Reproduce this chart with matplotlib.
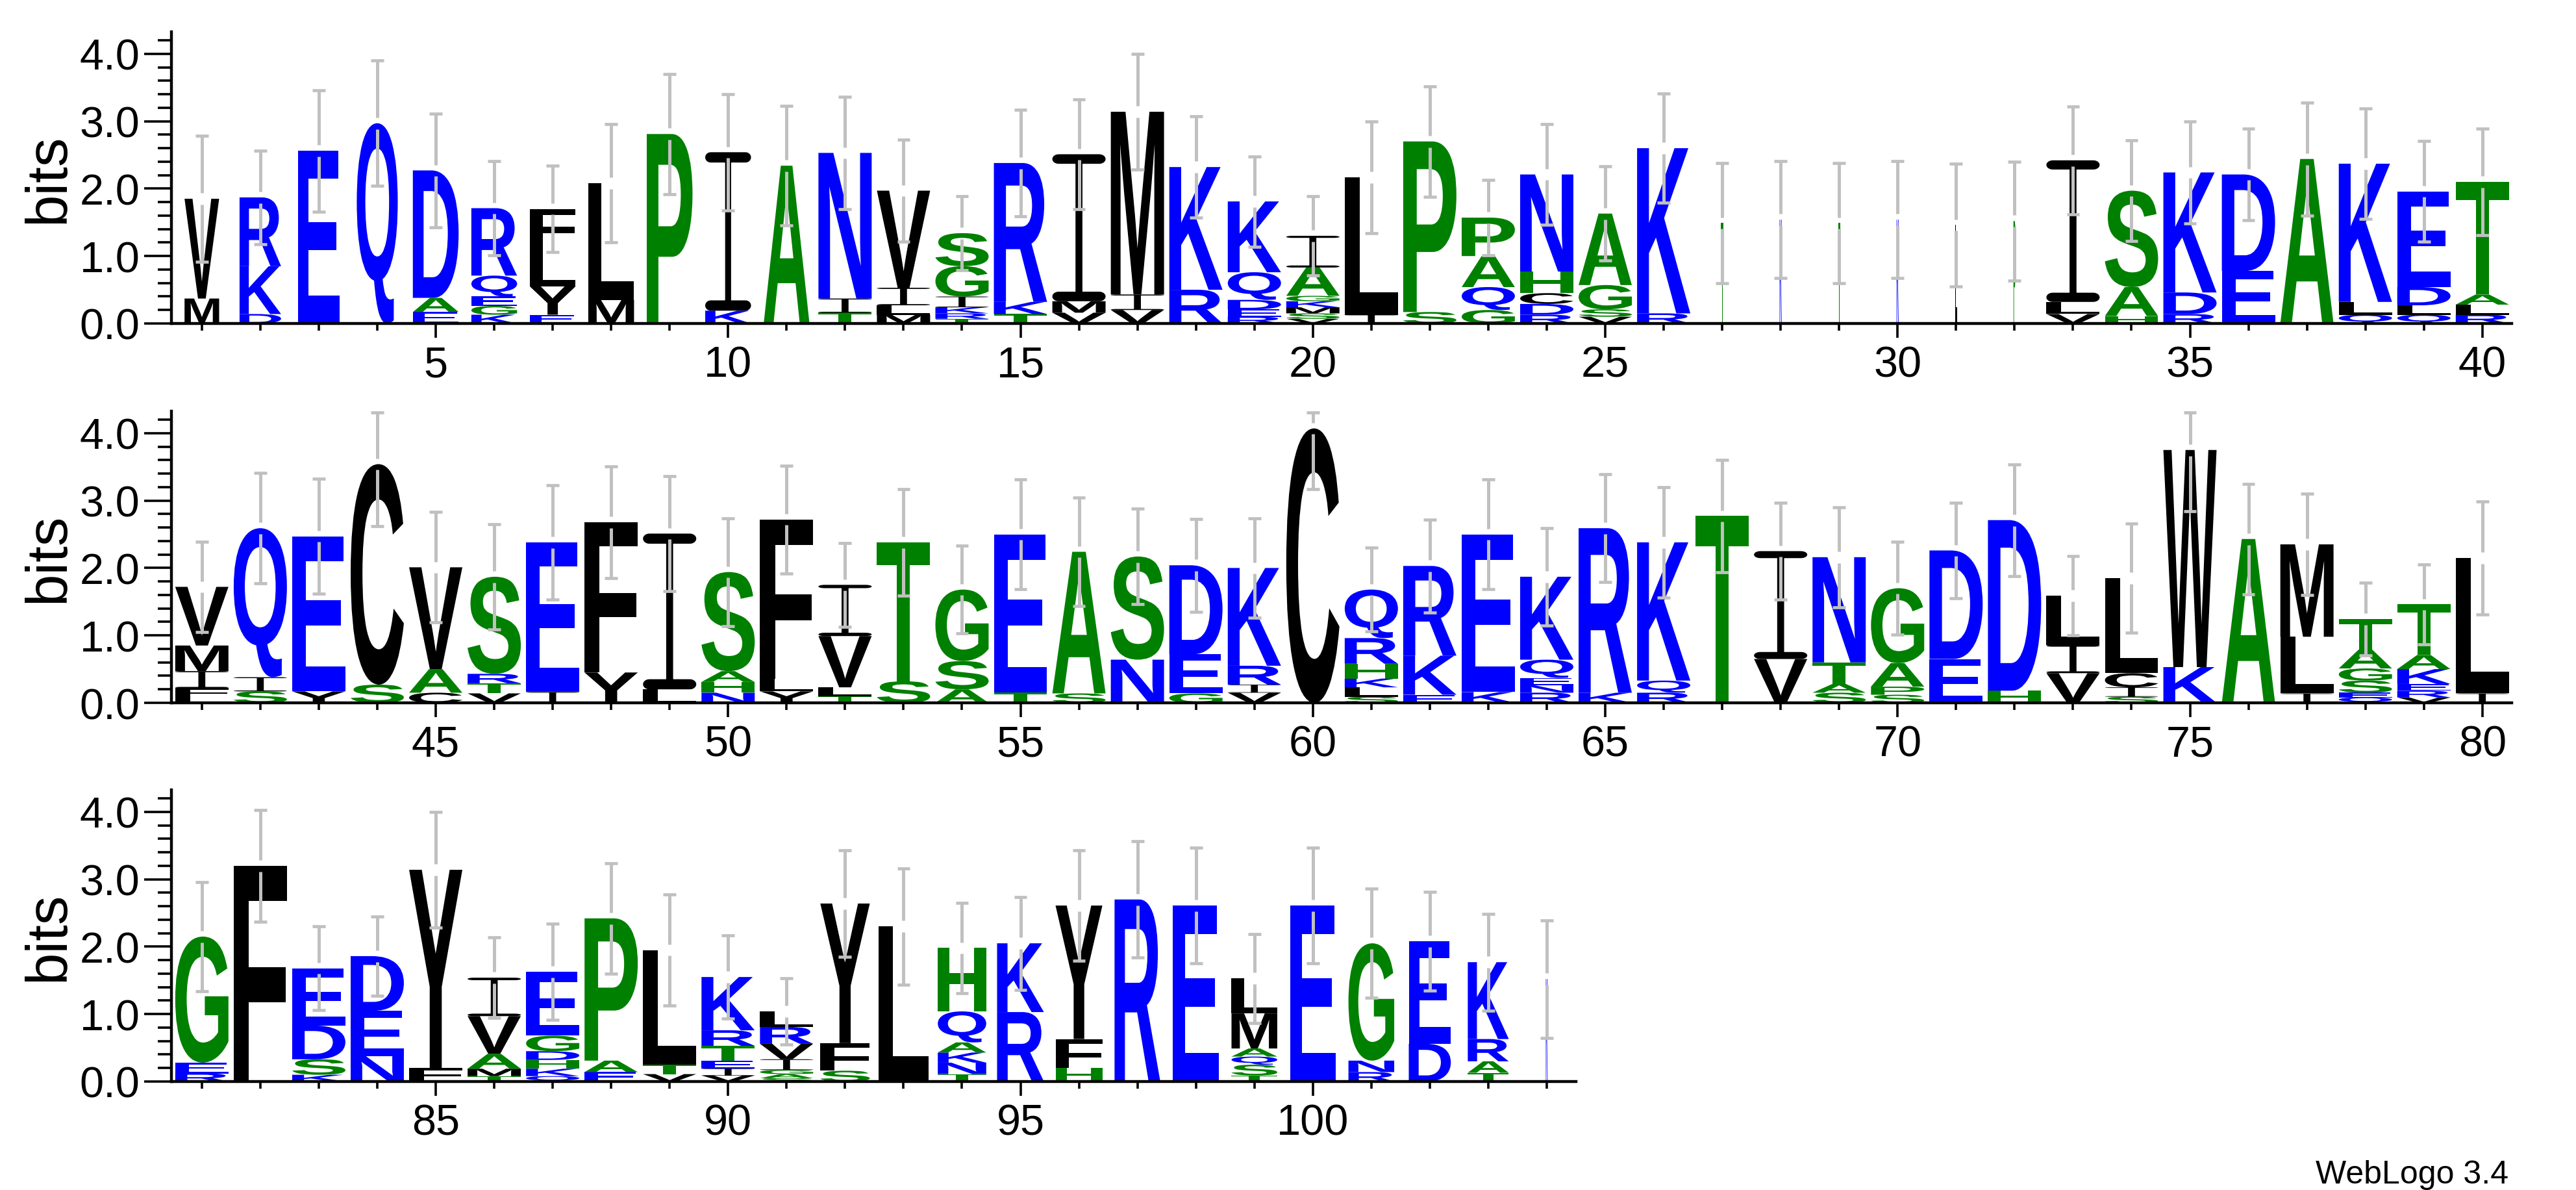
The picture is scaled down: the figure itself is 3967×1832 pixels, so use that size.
# Sequence logo (WebLogo style) redrawn with matplotlib
import matplotlib
matplotlib.use("Agg")
import matplotlib.pyplot as plt
import numpy as np
from matplotlib import font_manager
from matplotlib.font_manager import FontProperties
from matplotlib.patches import PathPatch
from matplotlib.path import Path
from matplotlib.textpath import TextPath
from matplotlib.transforms import Affine2D
from matplotlib.ticker import FixedLocator

# letters of each column, bottom to top, with their height in bits
stacks_1_40 = [
    [("M", 0.37), ("V", 1.48)],
    [("D", 0.14), ("K", 0.71), ("R", 1.02)],
    [("E", 2.56)],
    [("Q", 2.97)],
    [("E", 0.17), ("A", 0.21), ("D", 1.89)],
    [("K", 0.13), ("G", 0.13), ("E", 0.14), ("Q", 0.31), ("R", 1.00)],
    [("E", 0.13), ("Y", 0.42), ("L", 0.58), ("F", 0.57)],
    [("M", 0.35), ("L", 1.73)],
    [("P", 2.81)],
    [("K", 0.19), ("I", 2.35)],
    [("A", 2.34)],
    [("T", 0.16), ("I", 0.21), ("N", 2.16)],
    [("M", 0.13), ("L", 0.14), ("I", 0.26), ("V", 1.44)],
    [("T", 0.07), ("R", 0.08), ("K", 0.09), ("I", 0.16), ("G", 0.45), ("S", 0.49)],
    [("T", 0.14), ("K", 0.18), ("R", 2.06)],
    [("V", 0.16), ("M", 0.17), ("I", 2.18)],
    [("V", 0.20), ("I", 0.23), ("M", 2.71)],
    [("R", 0.50), ("K", 1.82)],
    [("R", 0.10), ("E", 0.11), ("D", 0.14), ("Q", 0.41), ("K", 1.05)],
    [("V", 0.07), ("S", 0.08), ("M", 0.09), ("K", 0.09), ("G", 0.08), ("A", 0.42), ("I", 0.47)],
    [("I", 0.13), ("L", 2.04)],
    [("S", 0.17), ("P", 2.53)],
    [("G", 0.20), ("Q", 0.34), ("A", 0.46), ("P", 0.57)],
    [("R", 0.13), ("D", 0.16), ("C", 0.16), ("H", 0.32), ("N", 1.44)],
    [("V", 0.10), ("S", 0.11), ("G", 0.36), ("A", 1.06)],
    [("R", 0.15), ("K", 2.45)],
    [("T", 1.49)],
    [("K", 1.54)],
    [("T", 1.49)],
    [("K", 1.54)],
    [("L", 1.46)],
    [("P", 1.52)],
    [("V", 0.14), ("L", 0.18), ("I", 2.10)],
    [("H", 0.11), ("A", 0.43), ("S", 1.43)],
    [("R", 0.14), ("D", 0.32), ("K", 1.78)],
    [("E", 0.78), ("D", 1.43)],
    [("A", 2.44)],
    [("Q", 0.13), ("L", 0.19), ("K", 2.05)],
    [("Q", 0.13), ("L", 0.14), ("D", 0.27), ("E", 1.42)],
    [("R", 0.13), ("L", 0.15), ("A", 0.15), ("T", 1.67)],
]
err_1_40 = [0.93, 0.69, 0.90, 0.93, 0.84, 0.70, 0.64, 0.88, 0.89, 0.86,
            0.89, 0.83, 0.76, 0.55, 0.79, 0.81, 0.86, 0.75, 0.67, 0.59,
            0.83, 0.82, 0.56, 0.75, 0.70, 0.81, 0.89, 0.87, 0.89, 0.87,
            0.91, 0.88, 0.80, 0.75, 0.76, 0.68, 0.84, 0.82, 0.75, 0.79]

stacks_41_80 = [
    [("L", 0.08), ("F", 0.14), ("I", 0.25), ("M", 0.38), ("V", 0.87)],
    [("S", 0.17), ("I", 0.21), ("Q", 2.21)],
    [("Y", 0.17), ("E", 2.30)],
    [("S", 0.27), ("C", 3.27)],
    [("C", 0.15), ("A", 0.35), ("V", 1.51)],
    [("V", 0.14), ("T", 0.15), ("R", 0.14), ("S", 1.44)],
    [("I", 0.16), ("E", 2.22)],
    [("Y", 0.45), ("F", 2.23)],
    [("L", 0.20), ("I", 2.31)],
    [("N", 0.15), ("H", 0.16), ("A", 0.16), ("S", 1.47)],
    [("Y", 0.17), ("L", 0.19), ("F", 2.36)],
    [("T", 0.10), ("L", 0.13), ("V", 0.76), ("I", 0.76)],
    [("S", 0.32), ("T", 2.06)],
    [("A", 0.20), ("S", 0.42), ("G", 1.06)],
    [("T", 0.15), ("E", 2.35)],
    [("S", 0.14), ("A", 2.10)],
    [("N", 0.64), ("S", 1.53)],
    [("G", 0.14), ("E", 0.58), ("D", 1.32)],
    [("V", 0.15), ("I", 0.12), ("R", 0.28), ("K", 1.45)],
    [("C", 4.07)],
    [("S", 0.09), ("L", 0.14), ("K", 0.13), ("H", 0.22), ("R", 0.38), ("Q", 0.72)],
    [("E", 0.12), ("K", 0.58), ("R", 1.33)],
    [("K", 0.16), ("E", 2.34)],
    [("R", 0.15), ("N", 0.11), ("E", 0.11), ("Q", 0.27), ("K", 1.23)],
    [("K", 0.15), ("R", 2.44)],
    [("R", 0.15), ("Q", 0.18), ("K", 2.05)],
    [("T", 2.77)],
    [("V", 0.65), ("I", 1.60)],
    [("S", 0.15), ("A", 0.13), ("T", 0.32), ("N", 1.56)],
    [("S", 0.12), ("P", 0.12), ("A", 0.35), ("G", 1.11)],
    [("E", 0.65), ("D", 1.61)],
    [("H", 0.18), ("D", 2.53)],
    [("V", 0.44), ("I", 0.42), ("L", 0.73)],
    [("S", 0.09), ("I", 0.14), ("C", 0.21), ("L", 1.41)],
    [("K", 0.53), ("W", 3.22)],
    [("A", 2.43)],
    [("I", 0.14), ("L", 0.84), ("M", 1.37)],
    [("Q", 0.08), ("E", 0.07), ("S", 0.18), ("G", 0.18), ("A", 0.28), ("T", 0.45)],
    [("V", 0.08), ("R", 0.10), ("E", 0.10), ("K", 0.22), ("A", 0.21), ("T", 0.75)],
    [("I", 0.14), ("L", 2.01)],
]
err_41_80 = [0.67, 0.82, 0.85, 0.92, 0.82, 0.78, 0.85, 0.83, 0.85, 0.80,
             0.80, 0.62, 0.79, 0.65, 0.81, 0.80, 0.71, 0.69, 0.74, 0.90,
             0.62, 0.69, 0.81, 0.72, 0.80, 0.82, 0.83, 0.72, 0.74, 0.69,
             0.71, 0.83, 0.59, 0.81, 0.91, 0.82, 0.75, 0.54, 0.59, 0.84]

stacks_81_104 = [
    [("R", 0.12), ("E", 0.16), ("G", 1.87)],
    [("F", 3.20)],
    [("K", 0.10), ("S", 0.23), ("D", 0.50), ("E", 0.85)],
    [("N", 0.38), ("E", 0.67), ("D", 0.81)],
    [("F", 0.20), ("Y", 2.94)],
    [("T", 0.08), ("M", 0.11), ("A", 0.22), ("V", 0.56), ("I", 0.57)],
    [("Q", 0.08), ("K", 0.11), ("H", 0.13), ("D", 0.13), ("G", 0.23), ("E", 0.95)],
    [("E", 0.14), ("A", 0.17), ("P", 2.11)],
    [("V", 0.11), ("T", 0.14), ("L", 1.70)],
    [("V", 0.09), ("I", 0.10), ("E", 0.12), ("T", 0.22), ("R", 0.23), ("K", 0.79)],
    [("S", 0.05), ("A", 0.06), ("G", 0.06), ("I", 0.16), ("V", 0.23), ("R", 0.25), ("L", 0.23)],
    [("S", 0.16), ("F", 0.41), ("Y", 2.07)],
    [("L", 2.30)],
    [("T", 0.11), ("N", 0.17), ("K", 0.15), ("A", 0.15), ("Q", 0.46), ("H", 0.94)],
    [("R", 1.03), ("K", 1.02)],
    [("H", 0.20), ("F", 0.43), ("Y", 1.98)],
    [("R", 2.70)],
    [("E", 2.61)],
    [("T", 0.09), ("S", 0.16), ("Q", 0.12), ("A", 0.12), ("M", 0.52), ("L", 0.52)],
    [("E", 2.61)],
    [("R", 0.14), ("N", 0.17), ("G", 1.74)],
    [("D", 0.56), ("E", 1.52)],
    [("T", 0.13), ("A", 0.17), ("R", 0.33), ("K", 1.14)],
    [("K", 1.52)],
]
err_81_104 = [0.81, 0.83, 0.62, 0.59, 0.86, 0.60, 0.71, 0.82, 0.82, 0.62,
              0.49, 0.79, 0.86, 0.67, 0.69, 0.82, 0.86, 0.86, 0.66, 0.86,
              0.81, 0.73, 0.72, 0.87]

# fraction of sequences with a residue in each column (sets the stack width)
occupancy = [0.65, 0.78, 0.79, 0.77, 0.86, 0.86, 0.86, 0.86, 0.86, 0.86,
             0.86, 1.0, 1.0, 1.0, 1.0, 1.0, 1.0, 1.0, 1.0, 1.0,
             1.0, 1.0, 1.0, 1.0, 1.0, 1.0, 0.04, 0.04, 0.04, 0.04,
             0.04, 0.04, 1.0, 1.0, 1.0, 1.0, 1.0, 1.0, 1.0, 1.0,
             1.0, 1.0, 1.0, 1.0, 1.0, 1.0, 1.0, 1.0, 1.0, 1.0,
             1.0, 1.0, 1.0, 1.0, 1.0, 1.0, 1.0, 1.0, 1.0, 1.0,
             1.0, 1.0, 1.0, 1.0, 1.0, 1.0, 1.0, 1.0, 1.0, 1.0,
             1.0, 1.0, 1.0, 1.0, 1.0, 1.0, 1.0, 1.0, 1.0, 1.0,
             1.0, 1.0, 1.0, 1.0, 1.0, 1.0, 1.0, 1.0, 1.0, 1.0,
             1.0, 0.93, 0.93, 0.91, 0.88, 0.88, 0.86, 0.86, 0.86, 0.86,
             0.86, 0.79, 0.77, 0.035]

YMAX = np.log2(20)

# hydrophobicity colouring
color_of = {}
for ch in "RKDENQ":
    color_of[ch] = "#0000ff"
for ch in "SGHTAP":
    color_of[ch] = "#008000"
for ch in "YVMCLFIW":
    color_of[ch] = "#000000"

names = {f.name for f in font_manager.fontManager.ttflist}
label_font = "Liberation Sans Narrow" if "Liberation Sans Narrow" in names else "Liberation Sans"
plt.rcParams["font.family"] = [label_font, "DejaVu Sans"]

glyph_font = FontProperties(family="Liberation Sans", weight="bold")
glyphs = {}


def stadium(x0, x1, y0, y1, rx=0.12, n=14):
    ry = (y1 - y0) / 2
    yc = (y0 + y1) / 2
    t = np.linspace(-np.pi / 2, np.pi / 2, n)
    right = np.c_[x1 - rx + rx * np.cos(t), yc + ry * np.sin(t)]
    left = np.c_[x0 + rx - rx * np.cos(t), yc - ry * np.sin(t)]
    pts = np.vstack([right, left, right[:1]])
    return Path(pts, closed=True)


def serif_i():
    # the "I" of the logo font has rounded caps top and bottom
    cap = 0.065
    stem = 0.13
    top = stadium(0, 1, 1 - cap, 1)
    bot = stadium(0, 1, 0, cap)
    mid = Path([(0.5 - stem / 2, cap / 2), (0.5 + stem / 2, cap / 2),
                (0.5 + stem / 2, 1 - cap / 2), (0.5 - stem / 2, 1 - cap / 2),
                (0.5 - stem / 2, cap / 2)], closed=True)
    return Path.make_compound_path(top, mid, bot)


def glyph(ch):
    if ch not in glyphs:
        if ch == "I":
            glyphs[ch] = serif_i()
        else:
            glyphs[ch] = TextPath((0, 0), ch, size=100, prop=glyph_font)
    return glyphs[ch]


def draw_letter(ax, ch, x, y0, w, h):
    p = glyph(ch)
    ext = p.get_extents()
    t = (Affine2D().translate(-ext.x0, -ext.y0)
         .scale(w / ext.width, h / ext.height)
         .translate(x - w / 2, y0))
    ax.add_patch(PathPatch(t.transform_path(p), facecolor=color_of[ch],
                           edgecolor="none", lw=0, zorder=2))


def draw_errbar(ax, x, top, err):
    gray = "#c0c0c0"
    hi = min(top + err, YMAX - 0.02)
    lo = top - err
    gap = 0.085
    for a, b in [(lo, top - gap), (top + gap, hi)]:
        if b > a:
            ax.plot([x, x], [a, b], color=gray, lw=3.6, solid_capstyle="butt", zorder=3)
    for yv in (lo, hi):
        ax.plot([x - 0.11, x + 0.11], [yv, yv], color=gray, lw=3.4,
                solid_capstyle="butt", zorder=3)


W, H = 3967, 1833
fig = plt.figure(figsize=(W / 100, H / 100), dpi=100)

rows = [(stacks_1_40, err_1_40, 1), (stacks_41_80, err_41_80, 41), (stacks_81_104, err_81_104, 81)]
baselines = [499, 1083, 1666]
col_px = 90.05
ax_left = 264
ax_h = YMAX * 103.8

for (stacks, errs, first), base in zip(rows, baselines):
    n = len(stacks)
    ax = fig.add_axes([ax_left / W, (H - base) / H, (n + 0.02) * col_px / W, ax_h / H])
    ax.set_xlim(first - 0.52, first + n - 0.5)
    ax.set_ylim(0, YMAX)
    ax.set_facecolor("none")

    for i, stack in enumerate(stacks):
        pos = first + i
        w = 0.91 * occupancy[pos - 1]
        y = 0.0
        for ch, h in stack:
            draw_letter(ax, ch, pos, y, w, h)
            y += h
        draw_errbar(ax, pos, y, errs[i])

    for side in ("top", "right"):
        ax.spines[side].set_visible(False)
    for side in ("left", "bottom"):
        ax.spines[side].set_linewidth(3.2)

    majors = [p for p in range(first, first + n) if p % 5 == 0]
    ax.set_xticks(majors)
    ax.set_xticklabels([str(p) for p in majors])
    ax.xaxis.set_minor_locator(FixedLocator(list(range(first, first + n))))
    ax.set_yticks([0, 1, 2, 3, 4])
    ax.set_yticklabels(["0.0", "1.0", "2.0", "3.0", "4.0"])
    ax.yaxis.set_minor_locator(FixedLocator(np.arange(0.2, 4.3, 0.2)))

    ax.tick_params(axis="y", which="major", length=30, width=2.6, pad=5, labelsize=48)
    ax.tick_params(axis="y", which="minor", length=15, width=2.6)
    ax.tick_params(axis="x", which="major", length=16, width=2.6, pad=8, labelsize=48)
    ax.tick_params(axis="x", which="minor", length=8, width=2.6)

    fig.text(75 / W, (H - base + ax_h / 2) / H, "bits", rotation=90,
             ha="center", va="center", fontsize=64)

fig.text(3863 / W, 11 / H, "WebLogo 3.4", ha="right", va="baseline", fontsize=36)

fig.savefig("out.png", dpi=100, facecolor="white")
